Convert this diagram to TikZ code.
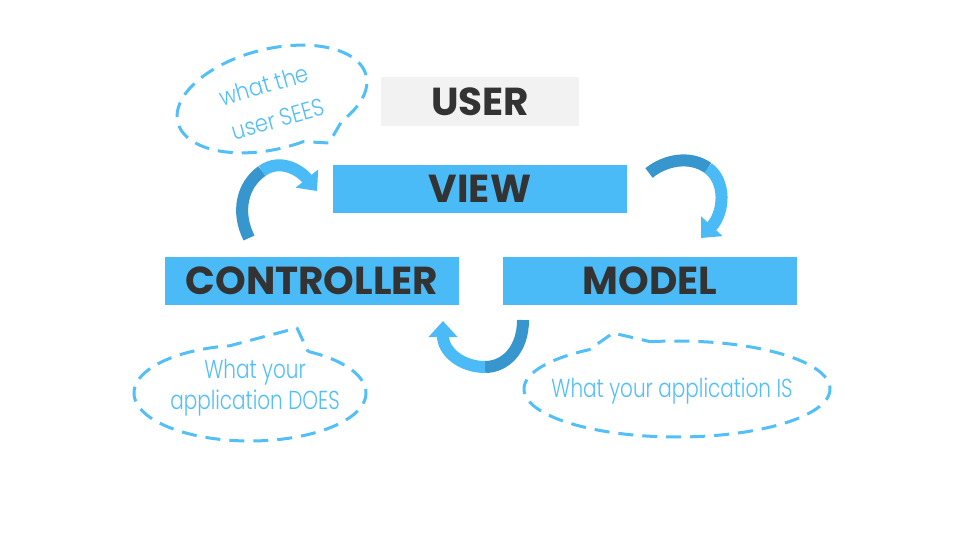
\documentclass[tikz,border=0pt]{standalone}
\usepackage{fontspec}
\setmainfont{Poppins}
\newfontfamily\hand{Poppins Light}
\usetikzlibrary{arrows.meta}
\definecolor{boxblue}{RGB}{74,187,247}
\definecolor{usergray}{RGB}{242,242,242}
\definecolor{darktext}{RGB}{51,51,51}
\definecolor{dashblue}{RGB}{82,191,248}
\definecolor{arrdark}{RGB}{56,150,206}
\definecolor{arrlight}{RGB}{74,187,247}
\begin{document}
\begin{tikzpicture}[x=1pt,y=-1pt,
  box/.style={fill=boxblue, minimum width=294pt, minimum height=48pt, inner sep=0pt,
    font=\fontsize{39}{39}\bfseries\selectfont, text=darktext},
  userbox/.style={box, fill=usergray, minimum width=198pt, minimum height=49pt},
  bubble/.style={draw=dashblue, line width=3pt, dash pattern=on 15pt off 9pt, line join=round},
  handtext/.style={text=dashblue, font=\hand\fontsize{20}{24}\selectfont, align=center,
    inner sep=0pt, yscale=1.3, transform shape},
  tilttext/.style={text=dashblue, font=\hand\fontsize{21}{24}\selectfont, inner sep=0pt,
    rotate=16, yscale=1.15, transform shape},
  arrowdark/.style={draw=arrdark, line width=12pt},
  arrowlight/.style={draw=arrlight, line width=12pt, -{Triangle[length=16pt,width=28pt]}}]
\useasboundingbox (0,0) rectangle (960,540);
\fill[white] (0,0) rectangle (960,540);

% boxes
\node[userbox] (user) at (480,101.5) {USER};
\node[box] (view) at (480,189) {VIEW};
\node[box] (ctrl) at (312,281) {CONTROLLER};
\node[box] (model) at (650,281) {MODEL};

% curved arrows
\coordinate (a1s) at (249,238);
\coordinate (a1m) at (262,171);
\coordinate (a1e) at (317,191);
\draw[arrowdark] (a1s) .. controls (236,212) and (242,185) .. (a1m);
\draw[arrowlight] (a1m) .. controls (280,158) and (300,170) .. (a1e);

\coordinate (b1s) at (649,173);
\coordinate (b1m) at (708,168);
\coordinate (b1e) at (701,238);
\draw[arrowdark] (b1s) .. controls (665,160) and (690,155) .. (b1m);
\draw[arrowlight] (b1m) .. controls (726,181) and (725,212) .. (b1e);

\coordinate (c1s) at (523,320);
\coordinate (c1m) at (485,367);
\coordinate (c1e) at (443,321);
\draw[arrowdark] (c1s) .. controls (523,350) and (505,367) .. (c1m);
\draw[arrowlight] (c1m) .. controls (462,367) and (443,352) .. (c1e);

% speech bubbles
\draw[bubble] plot[domain=78:410, samples=140]
  ({272+97*cos(\x)*cos(14)+50*sin(\x)*sin(14)}, {99-97*cos(\x)*sin(14)+50*sin(\x)*cos(14)})
  -- (329,143) -- cycle;
\node[tilttext] (t1a) at (264,85) {what the};
\node[tilttext] (t1b) at (278,119) {user SEES};

\draw[bubble] plot[domain=300:620, samples=140] ({250+116*cos(\x)}, {393+48*sin(\x)}) -- (297,328) -- cycle;
\node[handtext] (t2a) at (255,372) {What your};
\node[handtext] (t2b) at (255,403) {application DOES};

\draw[bubble] plot[domain=260:595, samples=160] ({677+153*cos(\x)}, {389+48*sin(\x)}) -- (613,333) -- cycle;
\node[handtext] (t3) at (672,391) {What your application IS};
\end{tikzpicture}
\end{document}
